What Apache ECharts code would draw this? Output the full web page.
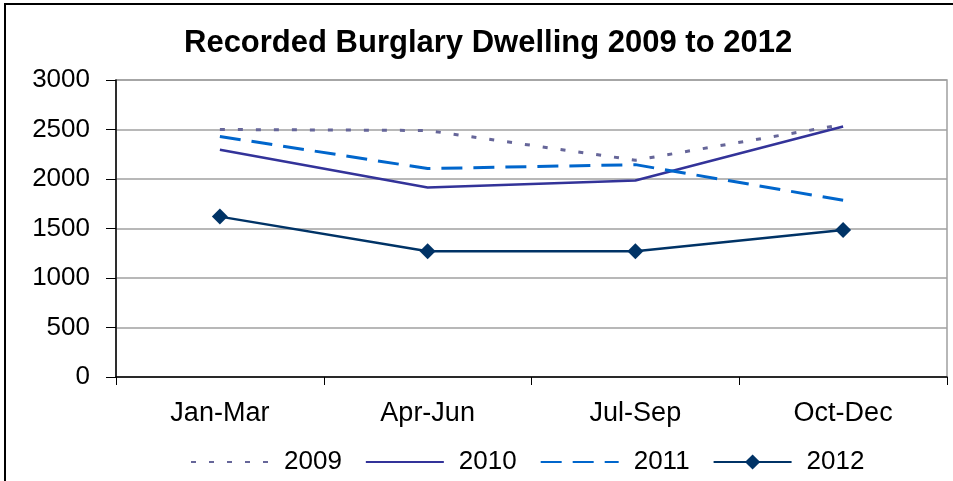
<!DOCTYPE html>
<html>
<head>
<meta charset="utf-8">
<script src="https://cdn.jsdelivr.net/npm/echarts@6/dist/echarts.min.js"></script>
<style>
html,body{margin:0;padding:0;background:#fff;}
#chart{width:953px;height:481px;}
</style>
</head>
<body>
<div id="chart"></div>
<script>
var categories = ['Jan-Mar', 'Apr-Jun', 'Jul-Sep', 'Oct-Dec'];
var s2009 = [2500, 2490, 2190, 2550];
var s2010 = [2295, 1915, 1985, 2530];
var s2011 = [2430, 2105, 2145, 1785];
var s2012 = [1620, 1270, 1270, 1485];
var seriesNames = ['2009', '2010', '2011', '2012'];
var yTicks = {min: 0, max: 3000, interval: 500};

var FF = '"Liberation Sans", Arial, sans-serif';
var chart = echarts.init(document.getElementById('chart'), null, {renderer: 'canvas'});
chart.setOption({
  animation: false,
  backgroundColor: '#fff',
  textStyle: {fontFamily: FF},
  title: {
    text: 'Recorded Burglary Dwelling 2009 to 2012',
    left: 179,
    top: 23,
    textStyle: {fontFamily: FF, fontSize: 31, fontWeight: 'bold', color: '#000'}
  },
  graphic: [{
    type: 'rect',
    shape: {x: 5, y: 4, width: 1000, height: 600},
    style: {fill: 'none', stroke: '#000', lineWidth: 2},
    silent: true
  }],
  grid: {
    left: 116, right: 6, top: 80, bottom: 104,
    show: true, borderColor: '#a0a0a0', borderWidth: 1.5, backgroundColor: 'transparent'
  },
  legend: {
    left: 185, top: 444,
    itemWidth: 78, itemHeight: 19, itemGap: 23,
    textStyle: {fontFamily: FF, fontSize: 26, color: '#000', padding: [0, 0, 0, 10]},
    data: [
      {name: seriesNames[0], itemStyle: {opacity: 0}},
      {name: seriesNames[1], itemStyle: {opacity: 0}},
      {name: seriesNames[2], itemStyle: {opacity: 0}},
      {name: seriesNames[3]}
    ]
  },
  xAxis: {
    type: 'category',
    data: categories,
    boundaryGap: true,
    axisLine: {lineStyle: {color: '#000', width: 1.5}},
    axisTick: {show: true, length: 8, lineStyle: {color: '#000'}},
    axisLabel: {fontFamily: FF, fontSize: 27, color: '#000', margin: 23},
    splitLine: {show: false}
  },
  yAxis: {
    type: 'value',
    min: yTicks.min, max: yTicks.max, interval: yTicks.interval,
    axisLine: {show: true, lineStyle: {color: '#000', width: 1.5}},
    axisTick: {show: true, length: 10, lineStyle: {color: '#000'}},
    axisLabel: {fontFamily: FF, fontSize: 26, color: '#000', margin: 26,
      formatter: function (v) { return String(v); }},
    splitLine: {show: true, lineStyle: {color: '#a0a0a0', width: 1.5}}
  },
  series: [
    {name: seriesNames[0], type: 'line', data: s2009, symbol: 'none',
     lineStyle: {color: '#666699', width: 3, type: [5, 13]}, itemStyle: {color: '#666699'}},
    {name: seriesNames[1], type: 'line', data: s2010, symbol: 'none',
     lineStyle: {color: '#333399', width: 2.5}, itemStyle: {color: '#333399'}},
    {name: seriesNames[2], type: 'line', data: s2011, symbol: 'none',
     lineStyle: {color: '#0066CC', width: 3, type: [21, 11]}, itemStyle: {color: '#0066CC'}},
    {name: seriesNames[3], type: 'line', data: s2012, symbol: 'diamond', symbolSize: 16,
     lineStyle: {color: '#003366', width: 2.5}, itemStyle: {color: '#003366'}}
  ]
});
</script>
</body>
</html>
